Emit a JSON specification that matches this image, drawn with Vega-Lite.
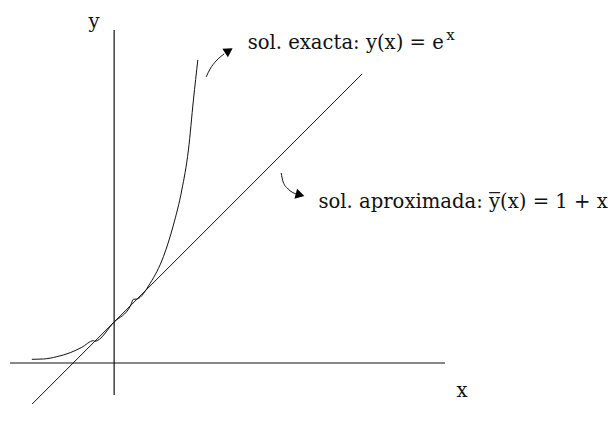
{
  "$schema": "https://vega.github.io/schema/vega-lite/v6.json",
  "autosize": "none",
  "width": 435,
  "height": 365,
  "padding": {"left": 10, "top": 30, "right": 166, "bottom": 30},
  "background": "white",
  "config": {"view": {"stroke": null}},
  "datasets": {
    "axes": [
      {"x": -2.54, "x2": 8.07, "y": 0, "y2": 0},
      {"x": 0, "x2": 0, "y": -0.78, "y2": 8.12}
    ],
    "exacta": [
      {"i": 0, "x": -2.007, "y": 0.09},
      {"i": 1, "x": -1.724, "y": 0.098},
      {"i": 2, "x": -1.398, "y": 0.154},
      {"i": 3, "x": -1.073, "y": 0.251},
      {"i": 4, "x": -0.788, "y": 0.383},
      {"i": 5, "x": -0.505, "y": 0.544},
      {"i": 6, "x": -0.47, "y": 0.53},
      {"i": 7, "x": 0.0, "y": 1.0},
      {"i": 8, "x": 0.4, "y": 1.4},
      {"i": 9, "x": 0.471, "y": 1.554},
      {"i": 10, "x": 0.554, "y": 1.56},
      {"i": 11, "x": 0.878, "y": 1.944},
      {"i": 12, "x": 1.202, "y": 2.593},
      {"i": 13, "x": 1.446, "y": 3.366},
      {"i": 14, "x": 1.651, "y": 4.22},
      {"i": 15, "x": 1.812, "y": 5.195},
      {"i": 16, "x": 1.934, "y": 6.415},
      {"i": 17, "x": 2.041, "y": 7.39}
    ],
    "aproximada": [
      {"x": -2.0, "y": -1.0},
      {"x": 6.05, "y": 7.05}
    ],
    "flechas": [
      {"flecha": "exacta", "i": 0, "x": 2.244, "y": 6.976},
      {"flecha": "exacta", "i": 1, "x": 2.341, "y": 7.171},
      {"flecha": "exacta", "i": 2, "x": 2.488, "y": 7.366},
      {"flecha": "exacta", "i": 3, "x": 2.683, "y": 7.537},
      {"flecha": "aproximada", "i": 0, "x": 4.073, "y": 4.634},
      {"flecha": "aproximada", "i": 1, "x": 4.122, "y": 4.415},
      {"flecha": "aproximada", "i": 2, "x": 4.244, "y": 4.244},
      {"flecha": "aproximada", "i": 3, "x": 4.439, "y": 4.122}
    ],
    "puntas": [
      {"flecha": "exacta", "x": 2.768, "y": 7.598, "angulo": 57},
      {"flecha": "aproximada", "x": 4.5, "y": 4.11, "angulo": 105}
    ],
    "ejes_texto": [
      {"x": -0.488, "y": 8.171, "texto": "y"},
      {"x": 8.488, "y": -0.829, "texto": "x"}
    ],
    "rotulos": [
      {"x": 3.256, "y": 7.659, "texto": "sol. exacta: y(x) = e"},
      {"x": 4.983, "y": 3.78, "texto": "sol. aproximada: y(x) = 1 + x"}
    ],
    "exponente": [
      {"x": 8.098, "y": 7.878, "texto": "x"}
    ],
    "barra": [
      {"x": 9.146, "x2": 9.415, "y": 4.154}
    ]
  },
  "encoding": {
    "x": {"type": "quantitative", "scale": {"domain": [-2.54, 8.07], "nice": false, "zero": false}, "axis": null},
    "y": {"type": "quantitative", "scale": {"domain": [-0.78, 8.12], "nice": false, "zero": false}, "axis": null}
  },
  "layer": [
    {
      "data": {"name": "axes"},
      "mark": {"type": "rule", "color": "#111", "strokeWidth": 1.2},
      "encoding": {
        "x": {"field": "x", "type": "quantitative"},
        "x2": {"field": "x2"},
        "y": {"field": "y", "type": "quantitative"},
        "y2": {"field": "y2"}
      }
    },
    {
      "data": {"name": "aproximada"},
      "mark": {"type": "line", "color": "#111", "strokeWidth": 1},
      "encoding": {
        "x": {"field": "x", "type": "quantitative"},
        "y": {"field": "y", "type": "quantitative"}
      }
    },
    {
      "data": {"name": "exacta"},
      "mark": {"type": "line", "color": "#111", "strokeWidth": 1, "interpolate": "monotone"},
      "encoding": {
        "x": {"field": "x", "type": "quantitative"},
        "y": {"field": "y", "type": "quantitative"},
        "order": {"field": "i", "type": "quantitative"}
      }
    },
    {
      "data": {"name": "flechas"},
      "mark": {"type": "line", "color": "#111", "strokeWidth": 1, "interpolate": "monotone"},
      "encoding": {
        "x": {"field": "x", "type": "quantitative"},
        "y": {"field": "y", "type": "quantitative"},
        "detail": {"field": "flecha"},
        "order": {"field": "i", "type": "quantitative"}
      }
    },
    {
      "data": {"name": "puntas"},
      "mark": {"type": "point", "shape": "triangle", "filled": true, "color": "#000", "opacity": 1, "size": 105},
      "encoding": {
        "x": {"field": "x", "type": "quantitative"},
        "y": {"field": "y", "type": "quantitative"},
        "angle": {"field": "angulo", "type": "quantitative", "scale": null}
      }
    },
    {
      "data": {"name": "ejes_texto"},
      "mark": {"type": "text", "font": "DejaVu Serif", "fontSize": 19.6, "align": "center", "baseline": "alphabetic", "color": "#111"},
      "encoding": {
        "x": {"field": "x", "type": "quantitative"},
        "y": {"field": "y", "type": "quantitative"},
        "text": {"field": "texto"}
      }
    },
    {
      "data": {"name": "rotulos"},
      "mark": {"type": "text", "font": "DejaVu Serif", "fontSize": 19.6, "align": "left", "baseline": "alphabetic", "color": "#111"},
      "encoding": {
        "x": {"field": "x", "type": "quantitative"},
        "y": {"field": "y", "type": "quantitative"},
        "text": {"field": "texto"}
      }
    },
    {
      "data": {"name": "exponente"},
      "mark": {"type": "text", "font": "DejaVu Serif", "fontSize": 15, "align": "left", "baseline": "alphabetic", "color": "#111"},
      "encoding": {
        "x": {"field": "x", "type": "quantitative"},
        "y": {"field": "y", "type": "quantitative"},
        "text": {"field": "texto"}
      }
    },
    {
      "data": {"name": "barra"},
      "mark": {"type": "rule", "color": "#111", "strokeWidth": 1.2},
      "encoding": {
        "x": {"field": "x", "type": "quantitative"},
        "x2": {"field": "x2"},
        "y": {"field": "y", "type": "quantitative"}
      }
    }
  ]
}
